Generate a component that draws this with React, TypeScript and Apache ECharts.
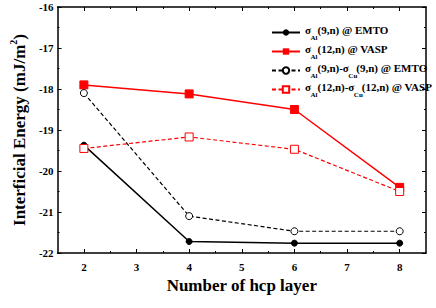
import React, { useEffect, useRef } from "react";
import * as echarts from "echarts";

const layers = [2, 4, 6, 8];
const alEmto = [-19.37, -21.72, -21.76, -21.76];
const alVasp = [-17.9, -18.12, -18.5, -20.4];
const diffEmto = [-18.1, -21.1, -21.47, -21.47];
const diffVasp = [-19.45, -19.17, -19.47, -20.5];
const xMajorTicks = [2, 3, 4, 5, 6, 7, 8];
const xMinorTicks = [2.5, 3.5, 4.5, 5.5, 6.5, 7.5];

const seriesNames = ["s1", "s2", "s3", "s4"];
const legendLabels: Record<string, string> = {
  s1: "{g|σ}{a|Al}{t|(9,n) @ EMTO}",
  s2: "{g|σ}{a|Al}{t|(12,n) @ VASP}",
  s3: "{g|σ}{a|Al}{t|(9,n)-}{g|σ}{c|Cu}{t|(9,n) @ EMTO}",
  s4: "{g|σ}{a|Al}{t|(12,n)-}{g|σ}{c|Cu}{t|(12,n) @ VASP}",
};

const FONT = "Liberation Serif";

export default function App() {
  const ref = useRef<HTMLDivElement>(null);
  useEffect(() => {
    if (!ref.current) return;
    const chart = echarts.init(ref.current, undefined, { renderer: "svg" });
    const pairs = (ys: number[]) => layers.map((x, i) => [x, ys[i]]);
    const axisLine = { show: true, lineStyle: { color: "#000", width: 1.5 } };
    const tickStyle = { color: "#000", width: 1 };
    const labelStyle = { color: "#000", fontFamily: FONT, fontWeight: "bold" as const, fontSize: 11 };
    const base = { color: "#000", fontFamily: FONT, fontWeight: "bold" as const };
    const sub = { ...base, fontSize: 7, lineHeight: 8, verticalAlign: "bottom" as const, align: "left" as const };
    chart.setOption({
      animation: false,
      backgroundColor: "#fff",
      textStyle: { fontFamily: FONT, fontWeight: "bold" },
      grid: { left: 56, top: 7, right: 10, bottom: 55, containLabel: false },
      xAxis: [
        {
          type: "value", position: "bottom", min: 1.5, max: 8.5,
          axisLine,
          axisTick: { show: true, inside: true, length: 4, lineStyle: tickStyle, customValues: xMajorTicks },
          axisLabel: { ...labelStyle, margin: 8, customValues: xMajorTicks },
          splitLine: { show: false },
          name: "Number of hcp layer",
          nameLocation: "middle",
          nameGap: 23,
          nameTextStyle: { color: "#000", fontFamily: FONT, fontWeight: "bold", fontSize: 17 },
        },
        {
          type: "value", position: "bottom", min: 1.5, max: 8.5,
          axisLine: { show: false },
          axisTick: { show: true, inside: true, length: 2, lineStyle: tickStyle, customValues: xMinorTicks },
          axisLabel: { show: false },
          splitLine: { show: false },
        },
        {
          type: "value", position: "top", min: 1.5, max: 8.5,
          axisLine,
          axisTick: { show: true, inside: true, length: 4, lineStyle: tickStyle, customValues: xMajorTicks },
          axisLabel: { show: false },
          splitLine: { show: false },
        },
        {
          type: "value", position: "top", min: 1.5, max: 8.5,
          axisLine: { show: false },
          axisTick: { show: true, inside: true, length: 2, lineStyle: tickStyle, customValues: xMinorTicks },
          axisLabel: { show: false },
          splitLine: { show: false },
        },
      ],
      yAxis: [
        {
          type: "value", position: "left", min: -22, max: -16, interval: 1,
          axisLine,
          axisTick: { show: true, inside: true, length: 4, lineStyle: tickStyle },
          minorTick: { show: true, splitNumber: 2, length: 2, lineStyle: tickStyle },
          axisLabel: { ...labelStyle, margin: 4 },
          splitLine: { show: false },
          name: "{n|Interficial Energy (mJ/m}{sup|2}{n|)}",
          nameLocation: "middle",
          nameGap: 29,
          nameTextStyle: {
            fontFamily: FONT, fontWeight: "bold", fontSize: 17,
            rich: {
              n: { ...base, fontSize: 17, lineHeight: 20, verticalAlign: "bottom" },
              sup: { ...base, fontSize: 10, lineHeight: 20, verticalAlign: "top" },
            },
          },
        },
        {
          type: "value", position: "right", min: -22, max: -16, interval: 1,
          axisLine,
          axisTick: { show: true, inside: true, length: 4, lineStyle: tickStyle },
          minorTick: { show: true, splitNumber: 2, length: 2, lineStyle: tickStyle },
          axisLabel: { show: false },
          splitLine: { show: false },
        },
      ],
      legend: {
        orient: "vertical",
        left: 266,
        top: 19,
        itemWidth: 28,
        itemHeight: 8,
        itemGap: 2,
        data: seriesNames,
        formatter: (name: string) => legendLabels[name],
        textStyle: {
          fontFamily: FONT, fontWeight: "bold", fontSize: 11, color: "#000",
          rich: {
            t: { ...base, fontSize: 11, lineHeight: 17, verticalAlign: "top", align: "left" },
            g: { ...base, fontSize: 11, lineHeight: 17, verticalAlign: "top", align: "left", width: 5.5 },
            a: { ...sub, width: 7 },
            c: { ...sub, width: 8 },
          },
        },
      },
      series: [
        {
          name: "s1", type: "line", data: pairs(alEmto),
          symbol: "circle", symbolSize: 6,
          lineStyle: { color: "#000", width: 1.5 },
          itemStyle: { color: "#000", borderColor: "#000" },
        },
        {
          name: "s2", type: "line", data: pairs(alVasp),
          symbol: "rect", symbolSize: 8,
          lineStyle: { color: "#ff0000", width: 1.5 },
          itemStyle: { color: "#ff0000", borderColor: "#ff0000" },
        },
        {
          name: "s3", type: "line", data: pairs(diffEmto),
          symbol: "circle", symbolSize: 7,
          lineStyle: { color: "#000", width: 1.2, type: [4, 2.5] },
          itemStyle: { color: "#fff", borderColor: "#000", borderWidth: 1 },
        },
        {
          name: "s4", type: "line", data: pairs(diffVasp),
          symbol: "rect", symbolSize: 8,
          lineStyle: { color: "#ff0000", width: 1.2, type: [4, 2.5] },
          itemStyle: { color: "#fff", borderColor: "#ff0000", borderWidth: 1 },
        },
      ],
    });
    return () => chart.dispose();
  }, []);
  return <div ref={ref} style={{ width: 436, height: 308, position: "absolute", left: 0, top: 0 }} />;
}
